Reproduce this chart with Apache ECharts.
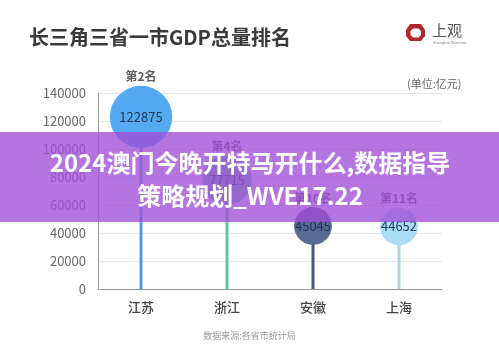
<!DOCTYPE html>
<html>
<head>
<meta charset="utf-8">
<script src="https://cdn.jsdelivr.net/npm/echarts@6/dist/echarts.min.js"></script>
<style>
html,body{margin:0;padding:0;background:#fff;}
#c{width:499px;height:355px;}
</style>
</head>
<body>
<div id="c"></div>
<script>
const categories = ['江苏', '浙江', '安徽', '上海'];
const gdpValues = [122875, 77715, 45045, 44652];
const ranks = ['第2名', '第4名', '第10名', '第11名'];
const bubbleColors = ['#55a9f0', '#72c2ae', '#586993', '#a9dcf6'];
const stemColors = ['#4f9ae6', '#5cc6a4', '#4a5677', '#a9d6ee'];
const yTicks = [0, 20000, 40000, 60000, 80000, 100000, 120000, 140000];

const FONT = '"Noto Sans CJK SC", "Noto Sans", sans-serif';
const chart = echarts.init(document.getElementById('c'), null, {renderer: 'canvas'});

function bubbleSize(v) { return Math.sqrt(v) * 0.178; }

const option = {
  backgroundColor: '#ffffff',
  animation: false,
  textStyle: {fontFamily: FONT},
  title: {
    text: '长三角三省一市GDP总量排名',
    left: 24, top: 22,
    textStyle: {fontSize: 20, fontWeight: 'bold', color: '#3a3a3a', fontFamily: FONT}
  },
  grid: {left: 98, right: 57, top: 93, bottom: 66},
  xAxis: {
    type: 'category',
    data: categories,
    boundaryGap: true,
    axisLine: {show: true, lineStyle: {color: '#999', width: 1}},
    axisTick: {show: false},
    axisLabel: {color: '#444', fontSize: 13, fontWeight: 500, margin: 12, fontFamily: FONT}
  },
  yAxis: {
    type: 'value',
    min: yTicks[0],
    max: yTicks[yTicks.length - 1],
    interval: 20000,
    axisLine: {show: true, lineStyle: {color: '#999', width: 1}},
    axisTick: {show: false},
    axisLabel: {color: '#666', fontSize: 13, margin: 12, padding: [10, 0, 0, 0], fontFamily: FONT,
      formatter: (v) => String(v)},
    splitLine: {lineStyle: {color: '#e6e6e6', width: 1}}
  },
  series: [
    {
      type: 'bar',
      barWidth: 3,
      data: gdpValues.map((v, i) => ({value: v, itemStyle: {color: stemColors[i]}})),
      z: 1
    },
    {
      type: 'scatter',
      data: gdpValues.map((v, i) => ({value: v, itemStyle: {color: bubbleColors[i], opacity: 1}})),
      symbolSize: (v) => bubbleSize(v),
      label: {
        show: true, position: 'inside',
        formatter: (p) => String(p.value),
        color: '#1d3557', fontSize: 13, fontFamily: FONT
      },
      z: 3
    },
    {
      type: 'scatter',
      data: gdpValues.map((v, i) => ({value: v})),
      symbolSize: (v) => bubbleSize(v),
      itemStyle: {color: 'rgba(0,0,0,0)'},
      label: {
        show: true, position: 'top', distance: 3,
        formatter: (p) => ranks[p.dataIndex],
        color: '#333', fontSize: 12, fontWeight: 'bold', fontFamily: FONT
      },
      z: 4
    }
  ],
  graphic: [
    {
      type: 'text', left: 407, top: 78,
      style: {text: '(单位:亿元)', fill: '#666', fontSize: 11, fontFamily: FONT}
    },
    {
      type: 'text', left: 'center', top: 331,
      style: {text: '数据来源:各省市统计局', fill: '#999', fontSize: 9, fontFamily: FONT}
    },
    {
      type: 'polygon', z: 10,
      shape: {points: [[410,24],[421,24],[425,30],[425,36],[421,41],[410,41],[406,36],[406,30]]},
      style: {fill: '#b3262d'}
    },
    {
      type: 'polygon', z: 11,
      shape: {points: [[413,28.5],[418.5,28.5],[421,31],[421,35],[418.5,37.5],[413,37.5],[410.5,35],[410.5,31]]},
      style: {fill: '#fff'}
    },
    {
      type: 'text', left: 432, top: 23, z: 10,
      style: {text: '上观', fill: '#555', fontSize: 15, fontFamily: '"Noto Sans CJK SC", serif'}
    },
    {
      type: 'text', left: 433, top: 41, z: 10,
      style: {text: 'Shanghai Observer', fill: '#888', fontSize: 4, fontFamily: 'Roboto, sans-serif'}
    },
    {
      type: 'rect', z: 100,
      shape: {x: 0, y: 132, width: 499, height: 90},
      style: {fill: 'rgba(160, 78, 215, 0.78)'}
    },
    {
      type: 'text', z: 101, x: 250, y: 163,
      style: {
        text: '2024澳门今晚开特马开什么,数据指导', fill: '#fff',
        fontSize: 24, fontWeight: 'bold', fontFamily: FONT,
        textAlign: 'center', textVerticalAlign: 'middle'
      }
    },
    {
      type: 'text', z: 101, x: 250, y: 196,
      style: {
        text: '策略规划_WVE17.22', fill: '#fff',
        fontSize: 24, fontWeight: 'bold', fontFamily: FONT,
        textAlign: 'center', textVerticalAlign: 'middle'
      }
    }
  ]
};
chart.setOption(option);
</script>
</body>
</html>
